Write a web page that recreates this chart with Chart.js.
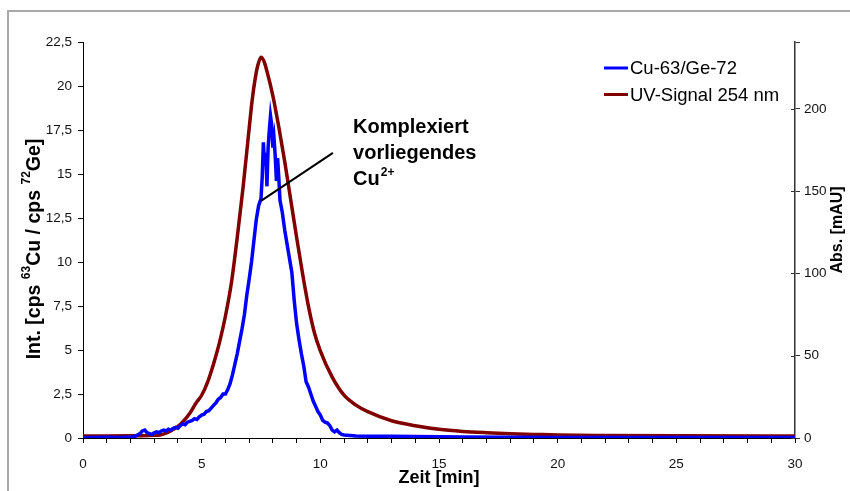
<!DOCTYPE html>
<html><head><meta charset="utf-8">
<script src="https://cdn.jsdelivr.net/npm/chart.js@4/dist/chart.umd.min.js"></script>
<style>html,body{margin:0;padding:0;background:#fff}#wrap{width:850px;height:491px;position:relative}</style>
</head><body><div id="wrap"><canvas id="c" width="850" height="491"></canvas></div>
<script>
// ---- data ----
const seriesLabels = ['Cu-63/Ge-72', 'UV-Signal 254 nm'];
const cuTime = [0,0.5,1,1.5,2,2.2,2.4,2.5,2.6,2.7,2.8,2.9,3.0,3.1,3.2,3.3,3.4,3.5,3.6,3.7,3.8,3.9,4.0,4.1,4.2,4.3,4.4,4.5,4.6,4.7,4.8,4.9,5.0,5.1,5.2,5.3,5.4,5.5,5.6,5.7,5.8,5.9,6.0,6.1,6.2,6.3,6.4,6.5,6.6,6.7,6.8,6.9,7.0,7.1,7.2,7.3,7.4,7.5,7.55,7.6,7.65,7.7,7.75,7.8,7.85,7.9,7.95,8.0,8.05,8.1,8.15,8.2,8.25,8.3,8.4,8.5,8.6,8.7,8.8,8.9,9.0,9.1,9.2,9.3,9.4,9.5,9.6,9.7,9.8,9.9,10.0,10.1,10.2,10.3,10.4,10.5,10.6,10.7,10.8,10.9,11.0,11.5,12,13,14,15,16,18,20,22,25,28,30];
const cuValues = [0.03,0.03,0.04,0.03,0.05,0.1,0.25,0.4,0.45,0.3,0.25,0.2,0.3,0.35,0.3,0.4,0.45,0.4,0.5,0.45,0.55,0.6,0.55,0.7,0.8,0.75,0.9,0.95,1.0,1.1,1.05,1.2,1.3,1.35,1.5,1.55,1.7,1.85,2.0,2.2,2.3,2.5,2.5,2.75,3.1,3.6,4.2,4.8,5.5,6.2,7.0,8.1,9.0,10.0,11.2,12.4,13.2,13.6,14.8,16.8,15.5,16.2,14.3,16.5,17.5,18.3,17.8,16.5,17.0,16.0,14.6,15.9,14.8,13.5,12.8,11.8,11.0,10.2,9.4,7.8,6.5,5.6,4.8,4.1,3.2,2.9,2.5,2.1,1.8,1.5,1.3,1.0,0.9,0.85,0.7,0.45,0.35,0.45,0.3,0.2,0.17,0.12,0.1,0.1,0.08,0.07,0.05,0.04,0.03,0.03,0.03,0.03,0.03];
const uvTime = [0,1,2,2.5,3,3.25,3.5,3.75,4.0,4.25,4.5,4.75,5.0,5.25,5.5,5.75,6.0,6.25,6.5,6.75,7.0,7.125,7.25,7.375,7.5,7.625,7.75,8.0,8.25,8.5,8.75,9.0,9.25,9.5,9.75,10.0,10.5,11.0,11.5,12,13,14,15,16,17,18,19,20,22,25,30];
const uvValues = [1.2,1.2,1.3,1.4,1.6,1.8,3,4.8,7,10.5,15,21,26,34,45,58,74,94,122,153,188,205,218,227,231.5,229,223,208,189,168,145,122,100,80,64,53,37,26,20,16,10.5,7.5,5.3,4.0,3.2,2.6,2.2,1.8,1.5,1.3,1.2];
const leftMax = 22.5, leftStep = 2.5;
const rightMax = 240.7, rightStep = 50;
const xMin = 0, xMax = 30, xMajor = 5;
const annotationLine = [[7.5, 13.47], [10.53, 16.2]];
const annotationAnchor = [11.38, 17.33];
const annotationText = ['Komplexiert', 'vorliegendes', 'Cu'];
const annotationSup = '2+';

const FONT = '"Liberation Sans", Arial, sans-serif';
const cuData = cuTime.map((t, i) => ({x: t, y: cuValues[i]}));
const uvData = uvTime.map((t, i) => ({x: t, y: uvValues[i]}));
const COLORS = ['#0000ff', '#800000'];

const deco = {
  id: 'deco',
  beforeDraw(chart) {
    const c = chart.ctx;
    c.save();
    c.fillStyle = '#fff'; c.fillRect(0, 0, chart.width, chart.height);
    c.strokeStyle = '#a8a8a8'; c.lineWidth = 2;
    c.strokeRect(8, 11, 1000, 1000);
    c.restore();
  },
  afterDatasetsDraw(chart) {
    const c = chart.ctx, xs = chart.scales.x, ys = chart.scales.y;
    c.save();
    c.strokeStyle = '#000'; c.lineWidth = 2;
    c.beginPath();
    c.moveTo(xs.getPixelForValue(annotationLine[0][0]), ys.getPixelForValue(annotationLine[0][1]));
    c.lineTo(xs.getPixelForValue(annotationLine[1][0]), ys.getPixelForValue(annotationLine[1][1]));
    c.stroke();
    // right axis ticks crossing into plot
    const y2 = chart.scales.y2;
    c.strokeStyle = '#333'; c.lineWidth = 1;
    for (let v = 0; v <= rightMax; v += rightStep) {
      const py = Math.round(y2.getPixelForValue(v)) + 0.5;
      c.beginPath(); c.moveTo(y2.left - 4, py); c.lineTo(y2.left, py); c.stroke();
    }
    c.restore();
  },
  afterDraw(chart) {
    const c = chart.ctx, xs = chart.scales.x, ys = chart.scales.y;
    c.save();
    c.fillStyle = '#000';
    // annotation text
    const ax = xs.getPixelForValue(annotationAnchor[0]);
    const ay = ys.getPixelForValue(annotationAnchor[1]);
    c.font = 'bold 20px ' + FONT; c.textAlign = 'left'; c.textBaseline = 'alphabetic';
    annotationText.forEach((t, i) => c.fillText(t, ax, ay + i * 26));
    const cuW = c.measureText(annotationText[2]).width;
    c.font = 'bold 12px ' + FONT;
    c.fillText(annotationSup, ax + cuW + 1, ay + 2 * 26 - 9);
    // legend
    c.font = '18.5px ' + FONT; c.textBaseline = 'middle';
    seriesLabels.forEach((lab, i) => {
      const y = 68 + i * 26.5;
      c.strokeStyle = COLORS[i]; c.lineWidth = 3;
      c.beginPath(); c.moveTo(604, y); c.lineTo(628, y); c.stroke();
      c.fillText(lab, 630, y + 1);
    });
    // x title
    c.font = 'bold 18px ' + FONT; c.textAlign = 'center';
    c.fillText('Zeit [min]', (xs.left + xs.right) / 2, 478);
    // right title
    c.save();
    c.translate(838, 230); c.rotate(-Math.PI / 2);
    c.font = 'bold 16px ' + FONT; c.textAlign = 'center';
    c.fillText('Abs. [mAU]', 0, 0);
    c.restore();
    // left title with superscripts
    const parts = [['Int. [cps ', 0], ['63', 1], ['Cu / cps ', 0], ['72', 1], ['Ge]', 0]];
    const fMain = 'bold 19.5px ' + FONT, fSup = 'bold 12px ' + FONT;
    let total = 0;
    parts.forEach(p => { c.font = p[1] ? fSup : fMain; p.push(c.measureText(p[0]).width); total += p[2]; });
    c.save();
    c.translate(35, 249); c.rotate(-Math.PI / 2);
    c.textAlign = 'left'; c.textBaseline = 'middle';
    let px = -total / 2;
    parts.forEach(p => { c.font = p[1] ? fSup : fMain; c.fillText(p[0], px, p[1] ? -8 : 0); px += p[2]; });
    c.restore();
    c.restore();
  }
};

new Chart(document.getElementById('c'), {
  type: 'line',
  data: {
    datasets: [
      {label: seriesLabels[0], data: cuData, yAxisID: 'y', borderColor: COLORS[0], backgroundColor: COLORS[0], borderWidth: 3.5, pointRadius: 0, tension: 0},
      {label: seriesLabels[1], data: uvData, yAxisID: 'y2', borderColor: COLORS[1], backgroundColor: COLORS[1], borderWidth: 3.5, pointRadius: 0, cubicInterpolationMode: 'monotone'}
    ]
  },
  options: {
    responsive: false, animation: false, devicePixelRatio: 1,
    layout: {padding: {top: 42, left: 0, right: 0, bottom: 0}},
    plugins: {legend: {display: false}, tooltip: {enabled: false}},
    scales: {
      x: {
        type: 'linear', min: xMin, max: xMax,
        border: {color: '#000', width: 1},
        grid: {drawOnChartArea: false, tickLength: 5, tickColor: '#000'},
        ticks: {stepSize: 1, autoSkip: false, maxRotation: 0, padding: 13, color: '#111',
          font: {family: FONT, size: 13.5},
          callback: v => (v % xMajor === 0 ? String(v) : '')},
        afterFit: s => { s.height = 53; }
      },
      y: {
        type: 'linear', position: 'left', min: 0, max: leftMax,
        border: {color: '#000', width: 1},
        grid: {drawOnChartArea: false, tickLength: 5, tickColor: '#000'},
        ticks: {stepSize: leftStep, padding: 6, color: '#111', font: {family: FONT, size: 13.5},
          callback: v => String(v).replace('.', ',')},
        afterFit: s => { s.width = 83; }
      },
      y2: {
        type: 'linear', position: 'right', min: 0, max: rightMax,
        border: {color: '#333', width: 1.5},
        grid: {drawOnChartArea: false, tickLength: 5, tickColor: '#333'},
        ticks: {stepSize: rightStep, padding: 4, color: '#111', font: {family: FONT, size: 13.5},
          callback: v => (v % rightStep === 0 ? String(v) : '')},
        afterFit: s => { s.width = 55; }
      }
    }
  },
  plugins: [deco]
});
</script>
</body></html>
